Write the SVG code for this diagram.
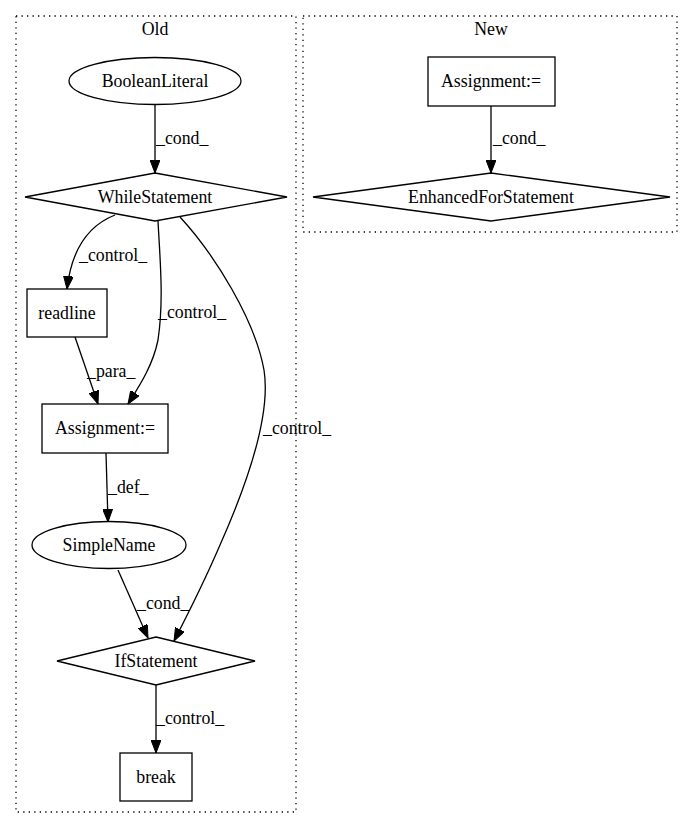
<svg xmlns="http://www.w3.org/2000/svg" width="693" height="828" viewBox="0 0 693 828">
<style>
text{font-family:"Liberation Serif","Times New Roman",serif;font-size:17.8px;fill:#000}
.n{text-anchor:middle}
.shape{fill:none;stroke:#000;stroke-width:1.3}
.cl{fill:none;stroke:#000;stroke-width:1.3;stroke-dasharray:1.3,4.2}
.e{fill:none;stroke:#000;stroke-width:1.3;marker-end:url(#arr)}
</style>
<defs>
<marker id="arr" viewBox="0 0 13 10" refX="13" refY="5" markerWidth="13" markerHeight="10" markerUnits="userSpaceOnUse" orient="auto">
<path d="M0,0 L13,5 L0,10 z" fill="#000" stroke="#000" stroke-width="1"/>
</marker>
</defs>
<rect width="693" height="828" fill="#fff"/>
<g id="cluster_old">
<rect class="cl" x="16" y="16" width="280" height="796"/>
<text class="n" x="155" y="35">Old</text>
</g>
<g id="cluster_new">
<rect class="cl" x="303" y="16" width="374" height="216"/>
<text class="n" x="491" y="35">New</text>
</g>
<g id="edges">
<path class="e" d="M155,104 L155,173"/>
<text x="156" y="144">_cond_</text>
<path class="e" d="M491,106 L491,173"/>
<text x="493" y="144">_cond_</text>
<path class="e" d="M115,215 C92,224 72,245 67,289"/>
<text x="79" y="261">_control_</text>
<path class="e" d="M158,221 C160,260 164,300 158,340 C153,365 140,385 128,404"/>
<text x="158" y="318">_control_</text>
<path class="e" d="M75,337 L98,404"/>
<text x="87" y="377">_para_</text>
<path class="e" d="M106,453 L108,522"/>
<text x="108" y="493">_def_</text>
<path class="e" d="M180,217 C215,255 255,320 264,370 C272,420 240,500 220,545 C205,580 190,610 174,641"/>
<text x="263" y="434">_control_</text>
<path class="e" d="M118,570 L148,638"/>
<text x="137" y="609">_cond_</text>
<path class="e" d="M156,685 L156,753"/>
<text x="156" y="724">_control_</text>
</g>
<g id="BooleanLiteral">
<ellipse class="shape" cx="155" cy="81" rx="86" ry="23.5"/>
<text class="n" x="155" y="87">BooleanLiteral</text>
</g>
<g id="WhileStatement">
<polygon class="shape" points="155,173 287,197 155,221 25,197"/>
<text class="n" x="155" y="203">WhileStatement</text>
</g>
<g id="readline">
<rect class="shape" x="27" y="289" width="80" height="48"/>
<text class="n" x="67" y="319">readline</text>
</g>
<g id="Assignment_old">
<rect class="shape" x="42" y="404" width="126" height="49"/>
<text class="n" x="105" y="434">Assignment:=</text>
</g>
<g id="SimpleName">
<ellipse class="shape" cx="109" cy="545" rx="77" ry="23.5"/>
<text class="n" x="109" y="551">SimpleName</text>
</g>
<g id="IfStatement">
<polygon class="shape" points="156,637 255,661 156,685 57,661"/>
<text class="n" x="156" y="667">IfStatement</text>
</g>
<g id="break">
<rect class="shape" x="120" y="753" width="72" height="48"/>
<text class="n" x="156" y="783">break</text>
</g>
<g id="Assignment_new">
<rect class="shape" x="428" y="57" width="127" height="49"/>
<text class="n" x="491" y="87">Assignment:=</text>
</g>
<g id="EnhancedForStatement">
<polygon class="shape" points="491,173 670,197 491,221 313,197"/>
<text class="n" x="491" y="203">EnhancedForStatement</text>
</g>
</svg>
